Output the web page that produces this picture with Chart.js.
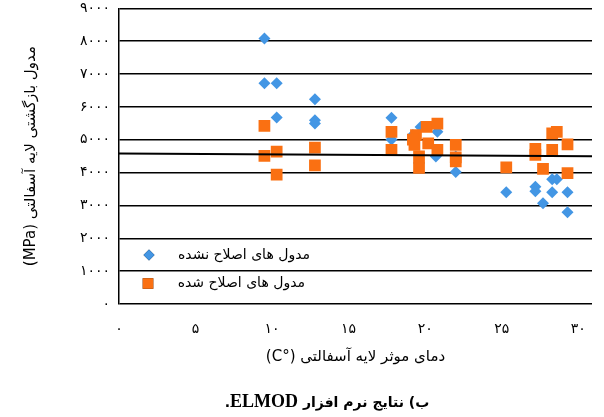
<!DOCTYPE html>
<html>
<head>
<meta charset="utf-8">
<script src="https://cdn.jsdelivr.net/npm/chart.js@4.4.1/dist/chart.umd.min.js"></script>
<style>
  body { margin: 0; background: #fff; }
  #wrap { position: relative; width: 604px; height: 417px; }
  #chart { direction: rtl; }
  #caption {
    position: absolute; left: 177px; top: 391px; width: 300px;
    text-align: center; direction: rtl; white-space: nowrap;
    font-family: "DejaVu Sans"; font-weight: bold; font-size: 14px; color: #000;
  }
  #caption span { font-family: "Liberation Serif"; font-size: 18px; }
</style>
</head>
<body>
<div id="wrap">
  <canvas id="chart" width="604" height="417"></canvas>
  <div id="caption">ب) نتایج نرم افزار <span>ELMOD</span>.</div>
</div>
<script>
// unmodified moduli (blue diamonds)
const rawX = [9.5, 9.5, 10.3, 10.3, 12.8, 12.8, 12.8, 17.8, 17.8, 19.2, 19.7, 19.6, 20.8, 20.7,
  22.0, 22.0, 25.3, 27.2, 27.2, 27.7, 28.3, 28.6, 28.3, 29.3, 29.3];
const rawY = [8080, 6720, 6720, 5680, 6230, 5590, 5490, 5670, 5010, 5140, 5390, 4290, 5240, 4490,
  4490, 4020, 3400, 3570, 3430, 3070, 3800, 3800, 3400, 3400, 2790];

// modified moduli (orange squares)
const modX = [9.5, 9.5, 10.3, 10.3, 12.8, 12.8, 17.8, 17.8, 19.4, 19.3, 19.6, 19.6, 20.1, 20.8,
  20.2, 20.8, 19.2, 22.0, 22.0, 22.0, 25.3, 27.2, 27.2, 27.7, 28.3, 28.6, 28.3, 29.3, 29.3];
const modY = [5420, 4510, 4640, 3940, 4760, 4220, 5240, 4690, 5140, 4840, 4490, 4140, 5390, 5490,
  4890, 4690, 5000, 4840, 4460, 4340, 4160, 4720, 4540, 4110, 5190, 5240, 4690, 4860, 3980];

// trend line end points
const trendX = [0, 30.9];
const trendY = [4580, 4500];

const yTicks = [0, 1000, 2000, 3000, 4000, 5000, 6000, 7000, 8000, 9000];
const xTicks = [0, 5, 10, 15, 20, 25, 30];

const labels = ['مدول های اصلاح نشده', 'مدول های اصلاح شده'];

const fa = v => String(v).replace(/\d/g, d => '۰۱۲۳۴۵۶۷۸۹'[d]);
const pts = (xs, ys) => xs.map((x, i) => ({x: x, y: ys[i]}));

const blue = '#4396e4';
const orange = '#fa7012';

// legend drawn inside the plot, bottom left
const innerLegend = {
  id: 'innerLegend',
  afterDatasetsDraw(chart) {
    const ctx = chart.ctx;
    const items = [
      {ds: chart.data.datasets[2], x: 149, y: 255, r: 5.5, tx: 310},
      {ds: chart.data.datasets[1], x: 148, y: 283.5, r: 7.5, tx: 305}
    ];
    ctx.save();
    items.forEach(it => {
      Chart.helpers.drawPoint(ctx, {
        pointStyle: it.ds.pointStyle, radius: it.r, rotation: 0, borderWidth: 0
      }, it.x, it.y);
      ctx.fillStyle = it.ds.backgroundColor;
      ctx.fill();
      ctx.fillStyle = '#000';
      ctx.font = '14px "DejaVu Sans"';
      ctx.direction = 'rtl';
      ctx.textAlign = 'right';
      ctx.textBaseline = 'middle';
      ctx.fillText(it.ds.label, it.tx, it.y);
    });
    ctx.restore();
  }
};

const ctx = document.getElementById('chart').getContext('2d');
const myChart = new Chart(ctx, {
  type: 'scatter',
  data: {
    datasets: [{
      type: 'line',
      label: 'trend',
      data: pts(trendX, trendY),
      borderColor: '#000',
      borderWidth: 2,
      pointRadius: 0
    }, {
      label: labels[1],
      data: pts(modX, modY),
      pointStyle: 'rect',
      pointRadius: 8.3,
      pointHoverRadius: 8.3,
      backgroundColor: orange,
      borderWidth: 0
    }, {
      label: labels[0],
      data: pts(rawX, rawY),
      pointStyle: 'rectRot',
      pointRadius: 6,
      pointHoverRadius: 6,
      backgroundColor: blue,
      borderWidth: 0
    }]
  },
  options: {
    responsive: false,
    animation: false,
    layout: { padding: { left: 0, right: 12, top: 5, bottom: 47 } },
    plugins: { legend: { display: false }, tooltip: { enabled: false } },
    scales: {
      x: {
        type: 'linear',
        min: 0,
        max: 30.9,
        afterBuildTicks: s => { s.ticks = xTicks.map(v => ({value: v})); },
        afterFit: s => { s.height = 66; },
        grid: { display: false },
        border: { display: false },
        ticks: {
          padding: 9,
          color: '#000',
          font: { family: 'DejaVu Sans', size: 14 },
          callback: v => fa(v)
        },
        title: {
          display: true,
          text: 'دمای موثر لایه آسفالتی (°C)',
          color: '#000',
          font: { family: 'DejaVu Sans', size: 15 },
          padding: { top: 12 }
        }
      },
      y: {
        min: 0,
        max: 9000,
        afterBuildTicks: s => { s.ticks = yTicks.map(v => ({value: v})); },
        afterFit: s => { s.width = 119; s.paddingTop = 0; s.paddingBottom = 0; },
        grid: { color: '#000', lineWidth: 1.5, drawTicks: false },
        border: { display: true, color: '#000', width: 1.5 },
        ticks: {
          padding: 9,
          color: '#000',
          font: { family: 'DejaVu Sans', size: 14 },
          callback: v => fa(v)
        },
        title: {
          display: true,
          text: 'مدول بازگشتی لایه آسفالتی (MPa)',
          color: '#000',
          font: { family: 'DejaVu Sans', size: 15 },
          padding: { top: 22 }
        }
      }
    }
  },
  plugins: [innerLegend]
});
</script>
</body>
</html>
